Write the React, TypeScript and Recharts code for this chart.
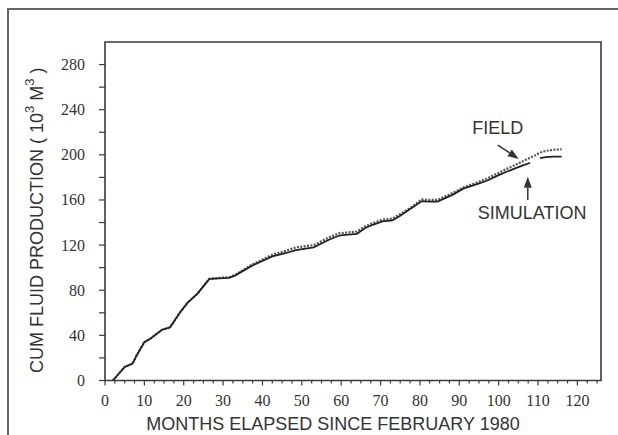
import React from 'react';
import { LineChart, Line, XAxis, YAxis, ReferenceArea, ReferenceDot, ReferenceLine } from 'recharts';

const months = [2, 3, 5, 7, 8, 10, 11.5, 14.5, 16.5, 19, 21, 23.5, 26.5, 29, 31.5, 33, 37.5, 42.5, 46, 48.5, 53, 57, 59.5, 61, 64, 66, 68, 70.5, 73, 75, 78, 80.5, 82, 84.5, 86, 88.5, 91, 94.5, 97, 100, 102, 104.5, 106, 108, 109, 110.5, 112, 114, 116];
const simulation = [0, 4, 12, 15, 22, 34, 37, 45, 47, 60, 69, 77, 90, 90.5, 91, 93, 102, 110, 113, 115.5, 118, 125, 128.5, 129, 130, 135, 138, 141, 142, 146, 153, 159, 158.5, 158.5, 161, 165, 170, 174, 177, 182, 185, 188.5, 190.5, 193, null, 197, 198, 198.5, 198.5];
const field = [0, 4, 12, 15, 22, 34, 37, 45, 47, 60, 69, 77, 90, 91, 91.5, 93.5, 103, 111.5, 115, 118, 120, 127, 130.5, 131, 132, 136.5, 139.5, 142.5, 143.5, 147.5, 154, 160.5, 160, 160, 162.5, 166.5, 171, 175.5, 179, 184, 187.5, 191.5, 194, 197.5, 199, 202, 203.5, 204.5, 205];

const xTicks = Array.from({ length: 51 }, (_, i) => i * 2.5);
const yTicks = [0, 20, 40, 60, 80, 100, 120, 140, 160, 180, 200, 220, 240, 260, 280, 300];
const xLabels = [0, 10, 20, 30, 40, 50, 60, 70, 80, 90, 100, 110, 120];
const yLabels = [0, 40, 80, 120, 160, 200, 240, 280];

const fieldText = { month: 99.8, value: 224, text: 'FIELD' };
const simText = { month: 108.5, value: 148.5, text: 'SIMULATION' };
const fieldArrow = [{ x: 99.8, y: 208.7 }, { x: 105.1, y: 196.3 }];
const simArrow = [{ x: 107.4, y: 160 }, { x: 107.4, y: 180.5 }];

const data = months.map((m, i) => ({ month: m, field: field[i], simulation: simulation[i] }));

const INK = '#3a3a3a';
const SANS = 'Liberation Sans';
const SERIF = 'Liberation Serif';

const XTick = (props: any) => {
  const { x, y, payload } = props;
  const v = payload.value;
  const major = xLabels.includes(v);
  return (
    <g>
      <line x1={x} x2={x} y1={y} y2={y + (major ? 5 : 3)} stroke={INK} strokeWidth={1.2} />
      {major && (
        <text x={x} y={y + 20} textAnchor="middle" dominantBaseline="central" style={{ fontFamily: SERIF }} fontSize={16} fill="#333">
          {v}
        </text>
      )}
    </g>
  );
};

const YTick = (props: any) => {
  const { x, y, payload } = props;
  const v = payload.value;
  const major = yLabels.includes(v);
  return (
    <g>
      {v < 300 && <line x1={x - 6} x2={x} y1={y} y2={y} stroke={INK} strokeWidth={1.2} />}
      {major && (
        <text x={x - 20} y={y} textAnchor="end" dominantBaseline="central" style={{ fontFamily: SERIF }} fontSize={16} fill="#333">
          {v}
        </text>
      )}
    </g>
  );
};

const XTitle = (props: any) => {
  const vb = props.viewBox || { x: 105, y: 380, width: 496, height: 54 };
  return (
    <text x={vb.x + vb.width / 2 - 20} y={vb.y + 43} textAnchor="middle" dominantBaseline="central" style={{ fontFamily: SANS }} fontSize={18} fill="#333">
      MONTHS ELAPSED SINCE FEBRUARY 1980
    </text>
  );
};

const YTitle = (props: any) => {
  const vb = props.viewBox || { x: 0, y: 42, width: 105, height: 338 };
  const cx = vb.x + 37;
  const cy = vb.y + vb.height / 2 + 9;
  return (
    <text x={cx} y={cy} transform={`rotate(-90, ${cx}, ${cy})`} textAnchor="middle" dominantBaseline="central" style={{ fontFamily: SANS }} fontSize={18} fill="#333">
      CUM FLUID PRODUCTION ( 10
      <tspan fontSize={13} dy={-8}>3</tspan>
      <tspan dy={8}>{'  M'}</tspan>
      <tspan fontSize={13} dy={-8}>3</tspan>
      <tspan dy={8}>{' )'}</tspan>
    </text>
  );
};

const textShape = (txt: string) => (props: any) => (
  <text x={props.cx} y={props.cy} textAnchor="middle" dominantBaseline="central" style={{ fontFamily: SANS }} fontSize={18} fill="#333">
    {txt}
  </text>
);

const arrowShape = (props: any) => {
  const { x1, y1, x2, y2 } = props;
  const dx = x2 - x1;
  const dy = y2 - y1;
  const len = Math.sqrt(dx * dx + dy * dy) || 1;
  const ux = dx / len;
  const uy = dy / len;
  const hl = 11;
  const hw = 4;
  const bx = x2 - ux * hl;
  const by = y2 - uy * hl;
  return (
    <g>
      <line x1={x1} y1={y1} x2={bx} y2={by} stroke="#333" strokeWidth={1.5} />
      <polygon points={`${x2},${y2} ${bx - uy * hw},${by + ux * hw} ${bx + uy * hw},${by - ux * hw}`} fill="#333" />
    </g>
  );
};

export default function App() {
  return (
    <div style={{ position: 'absolute', left: 0, top: 0, width: 618, height: 435, background: '#fff' }}>
      <div style={{ position: 'absolute', left: 7, top: 8, width: 611, height: 427, borderTop: '2px solid #666', borderLeft: '2px solid #666' }} />
      <div style={{ position: 'absolute', left: 0, top: 0 }}>
        <LineChart width={618} height={435} data={data} margin={{ top: 42, right: 17, left: 0, bottom: 0 }}>
          <XAxis
            dataKey="month"
            type="number"
            domain={[0, 126]}
            ticks={xTicks}
            interval={0}
            tickSize={0}
            tickMargin={0}
            tick={<XTick />}
            axisLine={false}
            height={54.5}
            label={<XTitle />}
          />
          <YAxis
            type="number"
            domain={[0, 300]}
            ticks={yTicks}
            interval={0}
            tickSize={0}
            tickMargin={0}
            tick={<YTick />}
            axisLine={false}
            width={105}
            label={<YTitle />}
          />
          <ReferenceArea x1={0} x2={126} y1={0} y2={300} fill="none" stroke={INK} strokeWidth={1.6} />
          <Line dataKey="field" type="linear" stroke="#555" strokeWidth={2.2} strokeDasharray="2 1.4" dot={false} isAnimationActive={false} />
          <Line dataKey="simulation" type="linear" stroke="#222" strokeWidth={1.8} dot={false} connectNulls={false} isAnimationActive={false} />
          <ReferenceDot x={fieldText.month} y={fieldText.value} r={0} shape={textShape(fieldText.text)} />
          <ReferenceDot x={simText.month} y={simText.value} r={0} shape={textShape(simText.text)} />
          <ReferenceLine segment={fieldArrow} shape={arrowShape} />
          <ReferenceLine segment={simArrow} shape={arrowShape} />
        </LineChart>
      </div>
    </div>
  );
}
